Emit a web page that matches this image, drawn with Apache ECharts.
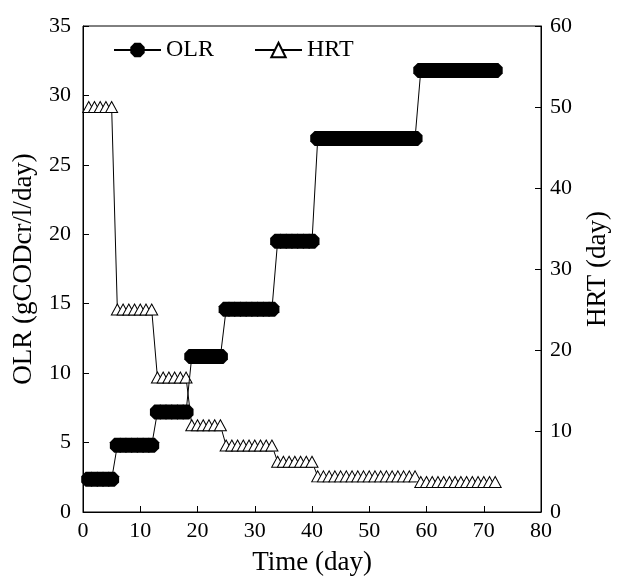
<!DOCTYPE html>
<html>
<head>
<meta charset="utf-8">
<script src="https://cdn.jsdelivr.net/npm/echarts@6/dist/echarts.min.js"></script>
<style>
html,body{margin:0;padding:0;background:#fff;}
#chart{width:619px;height:581px;}
</style>
</head>
<body>
<div id="chart"></div>
<script>
// Day of each measurement
var days = [1,2,3,4,5,6,7,8,9,10,11,12,13,14,15,16,17,18,19,20,21,22,23,24,25,26,27,28,29,30,31,32,33,34,35,36,37,38,39,40,41,42,43,44,45,46,47,48,49,50,51,52,53,54,55,56,57,58,59,60,61,62,63,64,65,66,67,68,69,70,71,72];
// OLR (gCODcr/l/day), left axis
var olr = [2.35,2.35,2.35,2.35,2.35,
  4.8,4.8,4.8,4.8,4.8,4.8,4.8,
  7.2,7.2,7.2,7.2,7.2,7.2,
  11.2,11.2,11.2,11.2,11.2,11.2,
  14.6,14.6,14.6,14.6,14.6,14.6,14.6,14.6,14.6,
  19.5,19.5,19.5,19.5,19.5,19.5,19.5,
  26.9,26.9,26.9,26.9,26.9,26.9,26.9,26.9,26.9,26.9,26.9,26.9,26.9,26.9,26.9,26.9,26.9,26.9,
  31.8,31.8,31.8,31.8,31.8,31.8,31.8,31.8,31.8,31.8,31.8,31.8,31.8,31.8];
// HRT (day), right axis
var hrt = [50,50,50,50,50,
  25,25,25,25,25,25,25,
  16.6,16.6,16.6,16.6,16.6,16.6,
  10.7,10.7,10.7,10.7,10.7,10.7,
  8.2,8.2,8.2,8.2,8.2,8.2,8.2,8.2,8.2,
  6.2,6.2,6.2,6.2,6.2,6.2,6.2,
  4.4,4.4,4.4,4.4,4.4,4.4,4.4,4.4,4.4,4.4,4.4,4.4,4.4,4.4,4.4,4.4,4.4,4.4,
  3.7,3.7,3.7,3.7,3.7,3.7,3.7,3.7,3.7,3.7,3.7,3.7,3.7,3.7];
var xTicks = [0,10,20,30,40,50,60,70,80];
var leftTicks = [0,5,10,15,20,25,30,35];
var rightTicks = [0,10,20,30,40,50,60];

var FONT = "'Liberation Serif','Times New Roman',serif";
var tick = {color:'#000', fontFamily:FONT, fontSize:22};
var title = {color:'#000', fontFamily:FONT, fontSize:27};
// near-round octagon marker (dense markers merge into a smooth band)
var DOT = 'path://M2.93,0L7.07,0L10,2.93L10,7.07L7.07,10L2.93,10L0,7.07L0,2.93Z';

function pairs(xs, ys){ return xs.map(function(x,i){return [x, ys[i]];}); }

var chart = echarts.init(document.getElementById('chart'), null, {renderer:'canvas'});
chart.setOption({
  backgroundColor:'#fff',
  animation:false,
  grid:{left:83, top:26, width:464, height:488, show:true, borderColor:'#000', borderWidth:1, backgroundColor:'transparent'},
  legend:{
    left:113, top:38, padding:0, itemWidth:47, itemHeight:18, itemGap:40,
    textStyle:{color:'#000', fontFamily:FONT, fontSize:24},
    data:['OLR','HRT']
  },
  xAxis:{
    type:'value', min:xTicks[0], max:xTicks[xTicks.length-1], interval:10,
    name:'Time (day)', nameLocation:'middle', nameGap:37,
    nameTextStyle:title,
    axisLine:{lineStyle:{color:'#000', width:1}},
    axisTick:{inside:true, length:6, lineStyle:{color:'#000'}},
    axisLabel:Object.assign({margin:8}, tick),
    splitLine:{show:false}
  },
  yAxis:[{
    type:'value', min:leftTicks[0], max:leftTicks[leftTicks.length-1], interval:5,
    name:'OLR (gCODcr/l/day)', nameLocation:'middle', nameGap:46, nameRotate:90,
    nameTextStyle:title,
    axisLine:{show:true, lineStyle:{color:'#000', width:1}},
    axisTick:{inside:true, length:6, lineStyle:{color:'#000'}},
    axisLabel:Object.assign({margin:12}, tick),
    splitLine:{show:false}
  },{
    type:'value', position:'right', min:rightTicks[0], max:rightTicks[rightTicks.length-1], interval:10,
    name:'HRT (day)', nameLocation:'middle', nameGap:43, nameRotate:90,
    nameTextStyle:title,
    axisLine:{show:true, lineStyle:{color:'#000', width:1}},
    axisTick:{inside:true, length:6, lineStyle:{color:'#000'}},
    axisLabel:Object.assign({margin:9}, tick),
    splitLine:{show:false}
  }],
  series:[{
    name:'HRT', type:'line', yAxisIndex:1, data:pairs(days, hrt),
    symbol:'triangle', symbolSize:[12,11],
    lineStyle:{color:'#000', width:1},
    itemStyle:{color:'#fff', borderColor:'#000', borderWidth:1},
    z:2
  },{
    name:'OLR', type:'line', yAxisIndex:0, data:pairs(days, olr),
    symbol:DOT, symbolSize:15,
    lineStyle:{color:'#000', width:1},
    itemStyle:{color:'#000', borderColor:'#000', borderWidth:0},
    z:3
  }]
});
</script>
</body>
</html>
